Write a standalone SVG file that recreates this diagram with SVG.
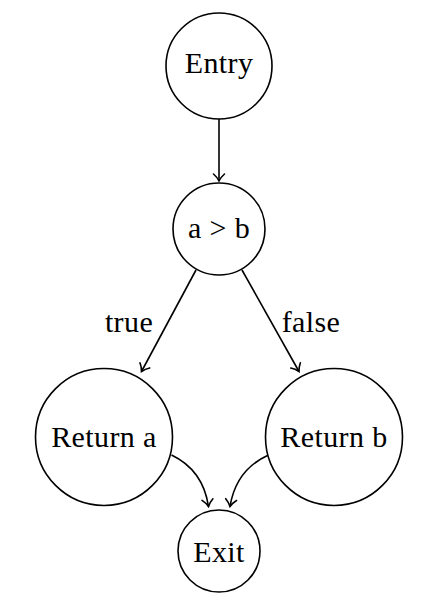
<svg xmlns="http://www.w3.org/2000/svg" width="442" height="598" viewBox="0 0 442 598">
<style>
.n{fill:#fff;stroke:#000;stroke-width:1.6}
.t{font-family:"Liberation Serif","Times New Roman",serif;font-size:30px;fill:#000;text-anchor:middle;letter-spacing:0.4px}
.e{fill:none;stroke:#000;stroke-width:1.6}
</style>
<defs>
<marker id="ah" markerWidth="14" markerHeight="14" refX="10" refY="7" orient="auto" markerUnits="userSpaceOnUse">
<path d="M3,1.5 Q6,5 10,7 Q6,9 3,12.5" fill="none" stroke="#000" stroke-width="1.6" stroke-linecap="round"/>
</marker>
</defs>
<rect width="442" height="598" fill="#fff"/>
<g id="edges">
<line class="e" x1="219" y1="119" x2="219" y2="181" marker-end="url(#ah)"/>
<line class="e" x1="196" y1="270" x2="141.5" y2="371.5" marker-end="url(#ah)"/>
<line class="e" x1="242" y1="270" x2="299" y2="371.5" marker-end="url(#ah)"/>
<path class="e" d="M171.5,455 Q203,470 208.5,506.5" marker-end="url(#ah)"/>
<path class="e" d="M267.5,455.5 Q236,470 230,506.5" marker-end="url(#ah)"/>
<text class="t" x="129" y="332">true</text>
<text class="t" x="311" y="332">false</text>
</g>
<g id="entry"><circle class="n" cx="219" cy="66" r="53"/><text class="t" x="219" y="73">Entry</text></g>
<g id="cond"><circle class="n" cx="219" cy="229" r="46"/><text class="t" x="219" y="238">a &gt; b</text></g>
<g id="retA"><circle class="n" cx="104" cy="437" r="68.5"/><text class="t" x="104" y="447">Return a</text></g>
<g id="retB"><circle class="n" cx="334" cy="437" r="68.5"/><text class="t" x="334" y="447">Return b</text></g>
<g id="exit"><circle class="n" cx="219" cy="551" r="41"/><text class="t" x="219" y="562">Exit</text></g>
</svg>
